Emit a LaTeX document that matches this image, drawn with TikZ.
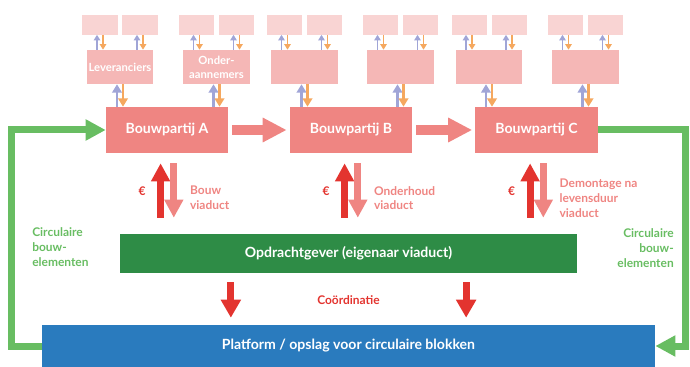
\documentclass[tikz,border=0pt]{standalone}
\usepackage{fontspec}
\setmainfont{Lato}
\usepackage{tikz}
\usetikzlibrary{arrows.meta}
\definecolor{bp_pink}{RGB}{239, 133, 130}
\definecolor{mid_pink}{RGB}{245, 183, 182}
\definecolor{sub_pink}{RGB}{249, 212, 211}
\definecolor{eur_red}{RGB}{227, 52, 47}
\definecolor{up_blue}{RGB}{160, 165, 215}
\definecolor{dn_orange}{RGB}{245, 168, 95}
\definecolor{opd_green}{RGB}{46, 140, 70}
\definecolor{circ_green}{RGB}{104, 189, 98}
\definecolor{plat_blue}{RGB}{42, 123, 190}

\begin{document}
\begin{tikzpicture}[x=0.025cm, y=-0.025cm, >=Stealth,
      bp/.style={fill=bp_pink, text=white, font=\fontsize{10}{12}\selectfont\bfseries,
        minimum width=3.05cm, minimum height=1.15cm, inner sep=0pt},
      mid/.style={fill=mid_pink, text=white, font=\fontsize{8}{10}\selectfont\bfseries, align=center,
        minimum width=1.65cm, minimum height=0.85cm, inner sep=0pt},
      sub/.style={fill=sub_pink, minimum width=0.875cm, minimum height=0.475cm, inner sep=0pt},
      opd/.style={fill=opd_green, text=white, font=\fontsize{10}{12}\selectfont\bfseries,
        minimum width=11.425cm, minimum height=0.975cm, inner sep=0pt},
      plat/.style={fill=plat_blue, text=white, font=\fontsize{10}{12}\selectfont\bfseries,
        minimum width=15.325cm, minimum height=1.05cm, inner sep=0pt},
      upl/.style={draw=up_blue, line width=#1, -{Triangle[width=4*#1, length=3.5*#1]}},
      dnl/.style={draw=dn_orange, line width=#1, -{Triangle[width=4*#1, length=3.5*#1]}},
      flow/.style={draw=bp_pink, line width=0.225cm, -{Triangle[width=0.575cm, length=0.6cm]},
        shorten <=0.1cm, shorten >=0.075cm},
      eur/.style={draw=eur_red, line width=0.175cm, -{Triangle[width=0.45cm, length=0.45cm]}},
      lev/.style={draw=bp_pink, line width=0.175cm, -{Triangle[width=0.45cm, length=0.45cm]}},
      circ/.style={draw=circ_green, line width=0.175cm, -{Triangle[width=0.5cm, length=0.5cm]}},
      lbl/.style={font=\fontsize{8.5}{10.5}\selectfont\bfseries, inner sep=0pt}]
    \useasboundingbox (0,0) rectangle (690,367);
    % bouwpartijen
    \node[bp] (a) at (167,130)   {Bouwpartij A};
    \node[bp] (b) at (351,130)   {Bouwpartij B};
    \node[bp] (c) at (536.5,130) {Bouwpartij C};
    \draw[flow] (a) -- (b);
    \draw[flow] (b) -- (c);
    % leveranciers / onderaannemers
    \foreach \i/\x/\t/\n in {1/120/Leveranciers/a, 2/216.5/{Onder-\\aannemers}/a, 3/304.5/{}/b,
        4/400.5/{}/b, 5/489/{}/c, 6/585.5/{}/c} {
      \node[mid] (m\i) at (\x,67) {\t};
      \node[sub] (u\i) at (\x-20,25) {};
      \node[sub] (v\i) at (\x+20,25) {};
      \draw[upl=0.06cm] ([xshift=-0.075cm]m\i.south |- \n.north) -- ([xshift=-0.075cm]m\i.south);
      \draw[dnl=0.06cm] ([xshift=0.075cm]m\i.south) -- ([xshift=0.075cm]m\i.south |- \n.north);
      \foreach \s in {u,v} {
        \draw[upl=0.04cm] ([xshift=-0.075cm]\s\i.south |- m\i.north) -- ([xshift=-0.075cm]\s\i.south);
        \draw[dnl=0.04cm] ([xshift=0.075cm]\s\i.south) -- ([xshift=0.075cm]\s\i.south |- m\i.north);
      }
    }
    % opdrachtgever en platform
    \node[opd]  (o) at (348.5,253.5) {Opdrachtgever (eigenaar viaduct)};
    \node[plat] (p) at (348.5,346)   {Platform / opslag voor circulaire blokken};
    \foreach \n/\t in {a/{Bouw\\viaduct}, b/{Onderhoud\\viaduct}, c/{Demontage na\\levensduur\\viaduct}} {
      \draw[eur, shorten <=0.4cm, shorten >=0.25cm] ([xshift=-0.16cm]\n.south |- o.north) -- ([xshift=-0.16cm]\n.south);
      \draw[lev, shorten <=0.25cm, shorten >=0.4cm] ([xshift=0.17cm]\n.south) -- ([xshift=0.17cm]\n.south |- o.north);
      \node[lbl, text=eur_red] (e\n) at ([xshift=-0.62cm, yshift=-0.95cm]\n.south) {€};
      \node[lbl, text=bp_pink, align=left, anchor=west] (l\n) at ([xshift=0.57cm, yshift=-1.12cm]\n.south) {\t};
    }
    \foreach \dx in {-2.94cm, 2.94cm}
      \draw[eur, line width=0.18cm, -{Triangle[width=0.48cm, length=0.45cm]}, shorten <=0.225cm, shorten >=0.175cm]
        ([xshift=\dx]o.south) -- ([xshift=\dx]o.south |- p.north);
    \node[lbl, text=eur_red] (k) at (348.5,300) {Coördinatie};
    % circulaire bouwelementen
    \draw[circ] (p.west) -- ++(-30,0) |- (a.west);
    \draw[circ] (c.east) -- ++(88,0) |- (p.east);
    \node[lbl, text=circ_green, align=left, anchor=west]  (cl) at (32,247)  {Circulaire\\bouw-\\elementen};
    \node[lbl, text=circ_green, align=right, anchor=east] (cr) at (674,248) {Circulaire\\bouw-\\elementen};
  \end{tikzpicture}
\end{document}
